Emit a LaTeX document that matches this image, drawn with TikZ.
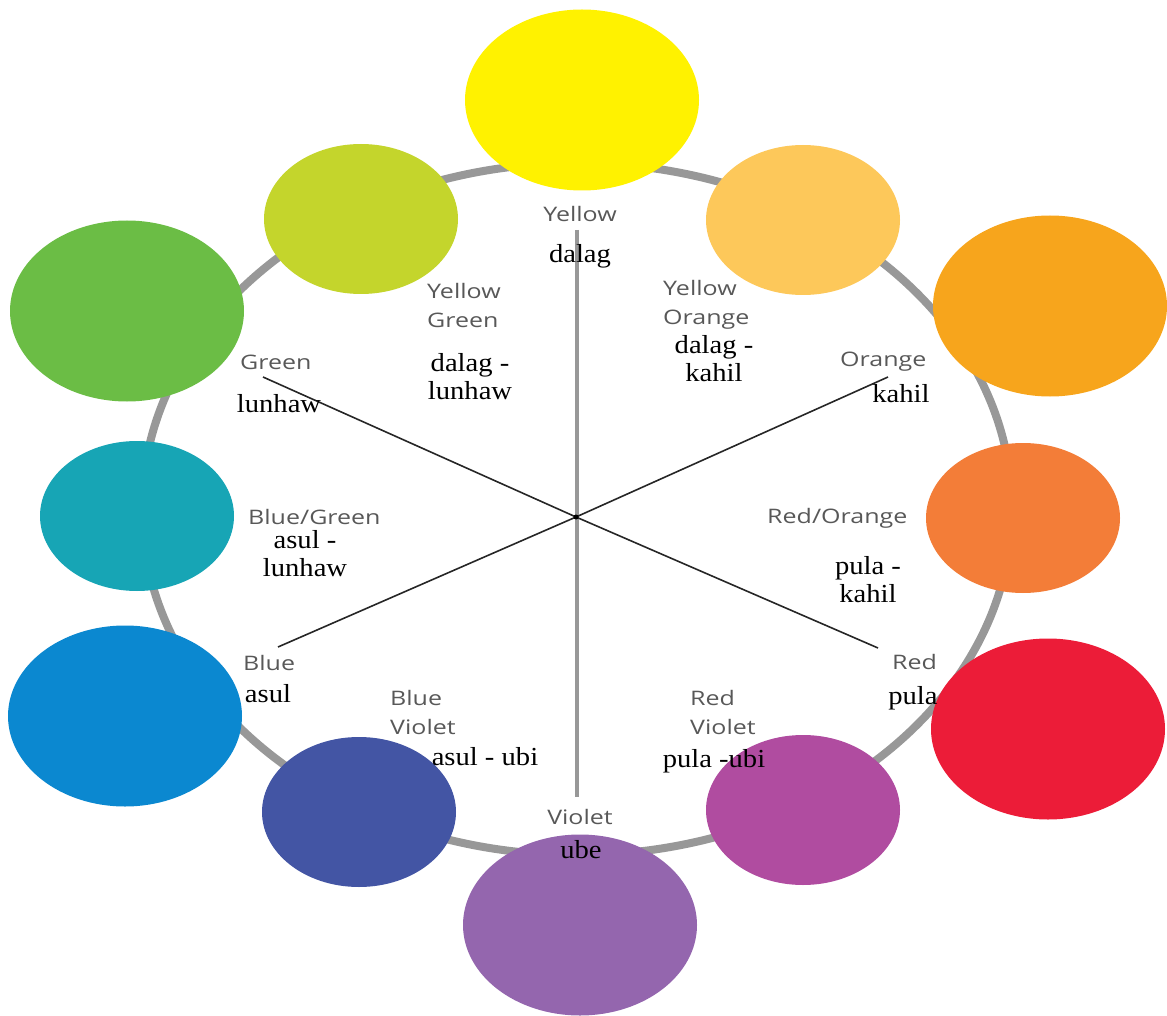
\documentclass[tikz,border=0pt]{standalone}
\usepackage{fontspec}
\usetikzlibrary{shapes.geometric}
\newfontfamily\engfont[FakeStretch=1.25]{Open Sans}
\newfontfamily\tagfont[FakeStretch=1.1]{Liberation Serif}
\definecolor{cyellow}{RGB}{255,242,0}
\definecolor{cyelloworange}{RGB}{253,200,90}
\definecolor{corange}{RGB}{247,165,28}
\definecolor{credorange}{RGB}{243,125,56}
\definecolor{cred}{RGB}{236,28,56}
\definecolor{credviolet}{RGB}{176,76,160}
\definecolor{cviolet}{RGB}{148,102,174}
\definecolor{cblueviolet}{RGB}{67,85,164}
\definecolor{cblue}{RGB}{11,136,208}
\definecolor{cbluegreen}{RGB}{23,165,181}
\definecolor{cgreen}{RGB}{107,189,69}
\definecolor{cyellowgreen}{RGB}{196,213,44}
\definecolor{labelgray}{RGB}{88,88,88}
\definecolor{ringgray}{RGB}{152,152,152}

\begin{document}
\begin{tikzpicture}[x=1pt,y=-1pt,
		hue/.style={ellipse, inner sep=0pt, draw=none},
		small/.style={hue, minimum width=194pt, minimum height=150pt},
		big/.style={hue, minimum width=234pt, minimum height=181pt},
		eng/.style={font=\engfont\fontsize{20}{29}\selectfont, text=labelgray, inner sep=0pt, align=left},
		tag/.style={font=\tagfont\fontsize{26}{28}\selectfont, inner sep=0pt, align=center},
		ring/.style={draw=ringgray, line width=8pt},
		axis/.style={draw=ringgray, line width=3.5pt},
		spoke/.style={draw=black!85, line width=1.6pt}]
		\useasboundingbox (0,0) rectangle (1167,1016);
		% wheel
		\coordinate (hub) at (577,509);
		\draw[ring] (hub) ellipse [x radius=435pt, y radius=346pt];
		% colour discs
		\node[big,   fill=cyellow]       (yellow)       at (582,100) {};
		\node[small, fill=cyelloworange] (yellow-orange) at (803,220) {};
		\node[big,   fill=corange]       (orange)       at (1050,306) {};
		\node[small, fill=credorange]    (red-orange)   at (1023,518) {};
		\node[big,   fill=cred]          (red)          at (1048,729) {};
		\node[small, fill=credviolet]    (red-violet)   at (803,810) {};
		\node[big,   fill=cviolet]       (violet)       at (580,925) {};
		\node[small, fill=cblueviolet]   (blue-violet)  at (359,812) {};
		\node[big,   fill=cblue]         (blue)         at (125,716) {};
		\node[small, fill=cbluegreen]    (blue-green)   at (137,516) {};
		\node[big,   fill=cgreen]        (green)        at (127,311) {};
		\node[small, fill=cyellowgreen]  (yellow-green) at (361,219) {};
		% axes
		\coordinate (centre)    at (576,517);
		\coordinate (axis-top)  at (577,230);
		\coordinate (axis-bot)  at (577,797);
		\coordinate (green-end) at (263,377);
		\coordinate (red-end)   at (878,648);
		\coordinate (orange-end) at (888,377);
		\coordinate (blue-end)  at (278,647);
		\draw[axis]  (axis-top) -- (axis-bot);
		\draw[spoke] (green-end) -- (centre) -- (red-end);
		\draw[spoke] (orange-end) -- (centre) -- (blue-end);
		\fill[black] (centre) circle [radius=2.5pt];
		% english names
		\node[eng]             (l-yellow)        at (580,214) {Yellow};
		\node[eng, anchor=west] (l-yellow-green)  at (427,305) {Yellow\\Green};
		\node[eng, anchor=west] (l-yellow-orange) at (663,305) {Yellow\\Orange};
		\node[eng, anchor=west] (l-green)         at (240,362) {Green};
		\node[eng, anchor=west] (l-orange)        at (840,362) {Orange};
		\node[eng, anchor=west] (l-blue-green)    at (248,517) {Blue/Green};
		\node[eng, anchor=west] (l-red-orange)    at (767,518) {Red/Orange};
		\node[eng, anchor=west] (l-blue)          at (243,663) {Blue};
		\node[eng, anchor=west] (l-red)           at (892,662) {Red};
		\node[eng, anchor=west] (l-blue-violet)   at (390,712) {Blue\\Violet};
		\node[eng, anchor=west] (l-red-violet)    at (690,712) {Red\\Violet};
		\node[eng]             (l-violet)        at (580,817) {Violet};
		% local names
		\node[tag] (t-yellow)        at (580,256) {dalag};
		\node[tag] (t-yellow-green)  at (470,377) {dalag -\\lunhaw};
		\node[tag] (t-yellow-orange) at (714,359) {dalag -\\kahil};
		\node[tag] (t-green)         at (279,404) {lunhaw};
		\node[tag] (t-orange)        at (901,394) {kahil};
		\node[tag] (t-blue-green)    at (305,554) {asul -\\lunhaw};
		\node[tag] (t-red-orange)    at (868,580) {pula -\\kahil};
		\node[tag] (t-blue)          at (268,694) {asul};
		\node[tag] (t-red)           at (913,698) {pula};
		\node[tag] (t-blue-violet)   at (485,757) {asul - ubi};
		\node[tag] (t-red-violet)    at (714,761) {pula -ubi};
		\node[tag] (t-violet)        at (581,850) {ube};
	\end{tikzpicture}
\end{document}
